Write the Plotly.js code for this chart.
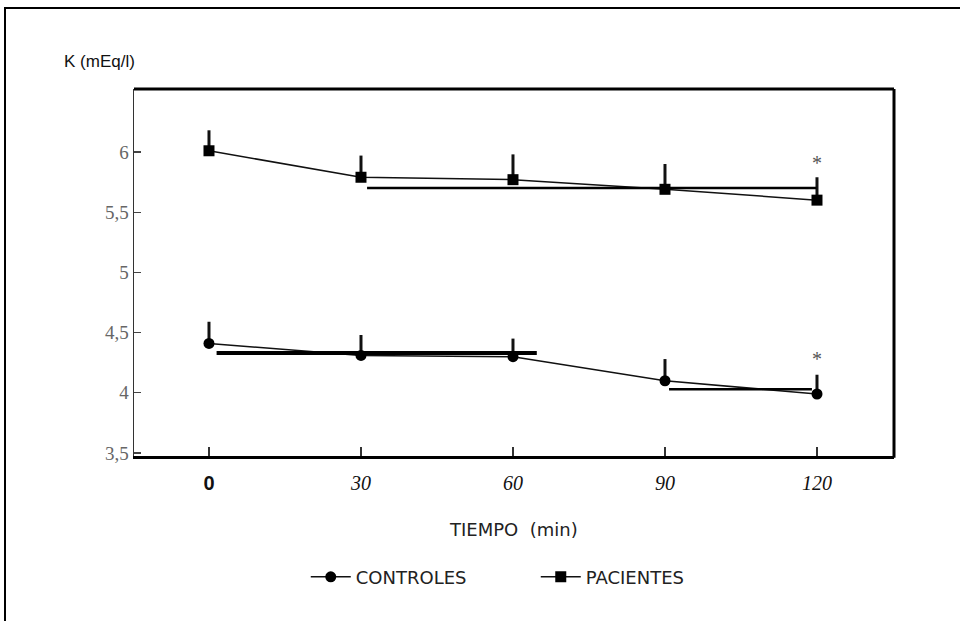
<!DOCTYPE html>
<html>
<head>
<meta charset="utf-8">
<script src="https://cdn.plot.ly/plotly-3.0.1.min.js"></script>
<style>
  html, body { margin: 0; padding: 0; background: #fff; }
  #wrap { position: relative; width: 960px; height: 621px; overflow: hidden; }
  #chart { position: absolute; left: 0; top: 0; width: 960px; height: 621px; }
  #frame { position: absolute; left: 4px; top: 7px; width: 980px; height: 640px;
           border-left: 2.5px solid #000; border-top: 2.5px solid #000; pointer-events: none; }
</style>
</head>
<body>
<div id="wrap">
  <div id="chart"></div>
  <div id="frame"></div>
</div>
<script>
// ---- data ----
const tiempo = [0, 30, 60, 90, 120];
const tickLabelsX = ['0', '30', '60', '90', '120'];

const controles = [4.41, 4.31, 4.30, 4.10, 3.99];
const controlesErr = [0.18, 0.17, 0.15, 0.18, 0.16];

const pacientes = [6.01, 5.79, 5.77, 5.69, 5.60];
const pacientesErr = [0.17, 0.18, 0.21, 0.21, 0.19];

const yTickVals = [3.5, 4, 4.5, 5, 5.5, 6];
const yTickText = ['3,5', '4', '4,5', '5', '5,5', '6'];

// overlay horizontal bars (start, end, level)
const barPacX = [31.2, 119.9];   const barPacY = 5.70;
const barCon1X = [1.5, 64.7];    const barCon1Y = 4.33;
const barCon2X = [90.8, 119.0];  const barCon2Y = 4.03;

// significance asterisks
const starX = [120, 120];
const starY = [5.895, 4.265];

// ---- traces ----
const zeros = tiempo.map(() => 0);

const traces = [
  {
    x: tiempo, y: controles, name: 'CONTROLES', type: 'scatter', mode: 'lines+markers',
    line: {color: '#111', width: 1.5},
    marker: {symbol: 'circle', size: 11, color: '#000'},
    error_y: {type: 'data', symmetric: false, array: controlesErr, arrayminus: zeros,
              color: '#111', thickness: 3, width: 0}
  },
  {
    x: tiempo, y: pacientes, name: 'PACIENTES', type: 'scatter', mode: 'lines+markers',
    line: {color: '#111', width: 1.5},
    marker: {symbol: 'square', size: 11, color: '#000'},
    error_y: {type: 'data', symmetric: false, array: pacientesErr, arrayminus: zeros,
              color: '#111', thickness: 3, width: 0}
  },
  { x: barPacX, y: [barPacY, barPacY], mode: 'lines', showlegend: false, hoverinfo: 'skip',
    line: {color: '#000', width: 2.5} },
  { x: barCon1X, y: [barCon1Y, barCon1Y], mode: 'lines', showlegend: false, hoverinfo: 'skip',
    line: {color: '#000', width: 4} },
  { x: barCon2X, y: [barCon2Y, barCon2Y], mode: 'lines', showlegend: false, hoverinfo: 'skip',
    line: {color: '#000', width: 2.5} },
  { x: starX, y: starY, mode: 'text', text: ['*', '*'], showlegend: false, hoverinfo: 'skip',
    textfont: {family: 'Liberation Serif', size: 20, color: '#555'} }
];

const tickTextX = tickLabelsX.map((t, i) => i === 0
  ? '<span style="font-family:Liberation Sans;font-weight:bold;font-style:normal">' + t + '</span>'
  : '<i>' + t + '</i>');

const layout = {
  width: 960, height: 621,
  margin: {l: 134, r: 66, t: 89, b: 165},
  paper_bgcolor: 'rgba(0,0,0,0)',
  plot_bgcolor: 'rgba(0,0,0,0)',
  showlegend: true,
  xaxis: {
    range: [-14.8, 135.2],
    tickmode: 'array', tickvals: tiempo, ticktext: tickTextX,
    ticks: 'inside', ticklen: 9, tickwidth: 1.5, tickcolor: '#333',
    tickfont: {family: 'Liberation Serif', size: 20, color: '#111'},
    ticklabelstandoff: 7,
    showline: true, linecolor: '#000', linewidth: 3,
    showgrid: false, zeroline: false, fixedrange: true
  },
  yaxis: {
    range: [3.475, 6.523],
    tickmode: 'array', tickvals: yTickVals, ticktext: yTickText,
    ticks: 'inside', ticklen: 7, tickwidth: 1.3, tickcolor: '#444',
    tickfont: {family: 'Liberation Serif', size: 19, color: '#666'},
    showline: true, linecolor: '#333', linewidth: 1.5,
    showgrid: false, zeroline: false, fixedrange: true
  },
  shapes: [
    {type: 'line', xref: 'paper', yref: 'paper', x0: 0, x1: 1, y0: 1, y1: 1,
     line: {color: '#000', width: 3}},
    {type: 'line', xref: 'paper', yref: 'paper', x0: 1, x1: 1, y0: -0.005, y1: 1,
     line: {color: '#000', width: 3}}
  ],
  annotations: [
    {text: 'K (mEq/l)', xref: 'paper', yref: 'paper', x: -0.0947, y: 1.0736,
     xanchor: 'left', yanchor: 'middle', showarrow: false,
     font: {family: 'Liberation Sans Narrow, Liberation Sans', size: 17, color: '#111'}},
    {text: 'TIEMPO&nbsp;&nbsp;(min)', xref: 'paper', yref: 'paper', x: 0.4987, y: -0.2016,
     xanchor: 'center', yanchor: 'middle', showarrow: false,
     font: {family: 'DejaVu Sans', size: 18, color: '#222'}}
  ],
  legend: {
    orientation: 'h', x: 0.226, y: -0.33, xanchor: 'left', yanchor: 'middle',
    font: {family: 'DejaVu Sans', size: 18, color: '#222'},
    itemwidth: 40, entrywidth: 175, bgcolor: 'rgba(0,0,0,0)'
  }
};

Plotly.newPlot('chart', traces, layout, {displayModeBar: false, staticPlot: true});
</script>
</body>
</html>
